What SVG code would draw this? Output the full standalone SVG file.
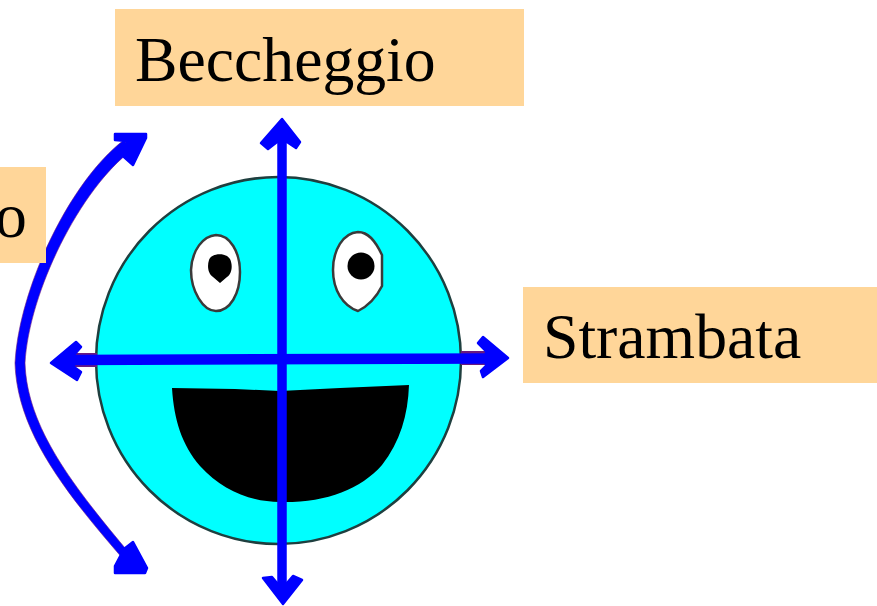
<svg xmlns="http://www.w3.org/2000/svg" width="877" height="606" viewBox="0 0 877 606">
<style>
.label{fill:#ffd699}
text{font-family:"Liberation Serif","Times New Roman",serif;font-size:63.7px;fill:#000}
.eye{fill:#fff;stroke:#3a3a3a;stroke-width:2.5}
.ink{fill:#000}
.arrow{fill:#0000ff;stroke:#0000ff;stroke-width:2.5;stroke-linejoin:round}
.shaft{fill:none;stroke:#0000ff;stroke-linecap:butt}
.edge{fill:none;stroke:#6a1a80;stroke-linecap:butt}
.arc{fill:#0000ff;stroke:#6a1a80;stroke-width:1;stroke-opacity:.6}
</style>
<rect width="877" height="606" fill="#fff"/>
<g id="face">
<ellipse cx="278.500" cy="360.500" rx="182.500" ry="183.500" fill="#00ffff" stroke="#1f3f3f" stroke-width="2.500"/>
<path class="eye" d="M191,270C192,250 203,236 216,235C230,235 240,252 240,272C240,294 230,311 216,311C203,311 191,291 191,270Z"/>
<path class="ink" d="M209,260C211,253 226,252 230,259C233,265 232,274 227,277L220,283L213,277C208,274 207,266 209,260Z"/>
<path class="eye" d="M333,270C333,250 343,233 358,232C368,232 375,240 382,255L382,286C376,298 368,306 358,311C343,306 333,290 333,270Z"/>
<circle class="ink" cx="361" cy="266" r="13.500"/>
<path class="ink" d="M172,388L235,389L280,391L340,388L409,385C408,415 400,442 382,465C360,490 325,503 280,502C250,502 222,490 200,466C182,445 174,420 172,388Z"/>
</g>
<g id="connectors">
<path class="edge" stroke-width="14" d="M72,360L97,360M461,358L488,358"/>
<path class="arc" d="M124,140C70,181 19,288 15,363C17,432 66,493 124,560L130,554C74,487 27,428 25,363C29,292 80,189 132,150Z"/>
<path class="shaft" stroke-width="10.500" d="M72,360L488,358.500"/>
<path class="shaft" stroke-width="9.500" d="M282,130L282,595"/>
<polygon class="arrow" points="115,134 146,134 146,138 133,165 124,157 127,141 115,140"/>
<polygon class="arrow" points="115,566 124,549 133,542 147,568 145,573 115,573"/>
<polygon class="arrow" points="282,119 300,142 296,148 287,142 277,142 268,149 261,143"/>
<polygon class="arrow" points="263,578 272,577 277,583 287,583 293,576 302,580 283,604"/>
<polygon class="arrow" points="51,363 76,342 81,347 74,355 74,367 81,372 77,380"/>
<polygon class="arrow" points="508,358 483,337 478,343 486,351 486,366 481,371 483,377"/>
</g>
<g id="label-beccheggio">
<rect class="label" x="115" y="9" width="409" height="97"/>
<text x="135" y="81">Beccheggio</text>
</g>
<g id="label-strambata">
<rect class="label" x="523" y="287" width="354" height="96"/>
<text x="543" y="358">Strambata</text>
</g>
<g id="label-o">
<rect class="label" x="0" y="167" width="46" height="96"/>
<text x="-5" y="237">o</text>
</g>
</svg>
